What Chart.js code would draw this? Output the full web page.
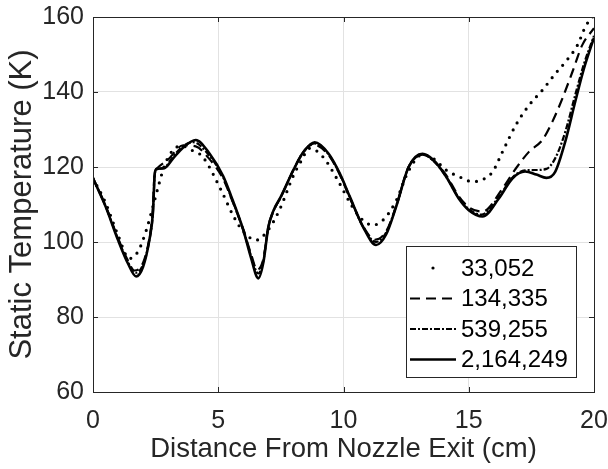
<!DOCTYPE html>
<html>
<head>
<meta charset="utf-8">
<script src="https://cdn.jsdelivr.net/npm/chart.js@4.4.1/dist/chart.umd.min.js"></script>
<style>
  body { margin: 0; background: #fff; }
  #wrap { width: 608px; height: 469px; }
</style>
</head>
<body>
<div id="wrap"><canvas id="tempChart" width="608" height="469"></canvas></div>
<script>
// 各網格數量下的靜溫分佈 (x: cm, y: K)
const seriesNames = ['33,052', '134,335', '539,255', '2,164,249'];

const x33k = [0, 0.5, 1.0, 1.45, 1.8, 2.13, 2.39, 2.66, 2.86, 3.19, 3.55, 3.9, 4.38, 5.11, 5.6,
  6.0, 6.52, 6.99, 7.44, 7.98, 8.3, 8.65, 9.18, 9.77, 10.3, 10.7, 11.17, 11.6, 12.1, 12.6,
  13.15, 13.6, 14.09, 14.62, 15.15, 15.5, 15.95, 16.35, 16.88, 17.41, 17.94, 18.47, 18.87, 19.34, 19.67, 20];
const t33k = [117, 110.5, 101.8, 95.6, 97.5, 103.2, 109.4, 116.1, 120.5, 124.5, 125.6, 124.6, 122.7, 113.9, 107,
  102.8, 100.5, 103.2, 108.5, 117.4, 121.5, 125.0, 122.7, 116.5, 110, 106.3, 104.5, 106, 111, 119,
  123.3, 122.2, 119.2, 117.4, 116.1, 116.5, 118.7, 124.1, 131.2, 136.5, 140.5, 145, 148.1, 152.5, 157.6, 160.5];

const x134k = [0, 0.5, 1.0, 1.4, 1.65, 2.0, 2.25, 2.38, 2.46, 2.55, 3.0, 3.6, 4.1, 4.6, 5.2,
  5.5, 6.0, 6.3, 6.55, 6.8, 7.0, 7.2, 7.5, 8.0, 8.4, 8.8, 9.4, 9.85, 10.25, 10.8,
  11.25, 11.7, 12.1, 12.6, 13.15, 13.6, 14.1, 14.6, 15.0, 15.55, 16.35, 16.88, 17.41, 17.94, 18.34,
  18.74, 19.14, 19.53, 20];
const t134k = [117, 109.7, 101, 95, 92.4, 94.5, 101, 108, 118.2, 119.6, 122, 125.8, 125.5, 122.5, 116.8,
  112, 103.3, 97, 92.6, 95.5, 104, 108.2, 112, 119.2, 124, 126, 123.2, 118, 111.8, 104,
  100.6, 102.8, 109.5, 120, 123.3, 121.6, 117.8, 112.2, 109.3, 108.1, 114.3, 119.6, 124.1, 127.2, 132.1,
  138.3, 145.4, 152.5, 157];

const x539k = [0, 0.5, 1.0, 1.4, 1.7, 2.0, 2.25, 2.39, 2.47, 2.55, 2.85, 3.2, 3.6, 4.0, 4.6,
  5.2, 5.5, 6.0, 6.3, 6.6, 6.8, 7.0, 7.2, 7.5, 8.0, 8.4, 8.85, 9.4, 9.85, 10.25,
  10.8, 11.3, 11.7, 12.1, 12.6, 13.15, 13.6, 14.1, 14.6, 15.0, 15.5, 16.2, 16.75, 17.25, 17.7,
  18.1, 18.45, 18.85, 19.25, 19.6, 20];
const t539k = [117, 109.6, 100.8, 94.6, 91.8, 94, 100.5, 107.5, 118.3, 119.4, 119.8, 122.8, 125.6, 126.6, 123.4,
  117.2, 112.2, 103.2, 96.5, 91.6, 95, 104, 108.2, 112, 119.2, 124, 126.3, 123.4, 118.2, 112,
  103.8, 100, 102.5, 109.5, 120, 123.3, 121.6, 117.4, 111.8, 108.8, 107.3, 112, 117.2, 119.1, 119.2,
  119.5, 122.3, 129.3, 139.2, 147.5, 155];

const x2164k = [0, 0.5, 1.0, 1.4, 1.72, 2.0, 2.25, 2.39, 2.47, 2.55, 2.85, 3.2, 3.6, 4.1, 4.65,
  5.2, 5.5, 6.0, 6.3, 6.6, 6.8, 7.0, 7.2, 7.5, 8.0, 8.4, 8.85, 9.4, 9.85, 10.25,
  10.8, 11.3, 11.7, 12.1, 12.6, 13.15, 13.6, 14.1, 14.6, 15.0, 15.55, 16.2, 16.75, 17.25, 17.7,
  18.1, 18.45, 18.85, 19.25, 19.6, 20];
const t2164k = [117, 109.5, 100.5, 94.2, 90.8, 93.4, 100.5, 107.6, 118.5, 119.5, 119.7, 122.3, 125.2, 127.2, 123.6,
  117.5, 112.5, 103.2, 96, 90.3, 94.5, 104, 108.3, 112.1, 119.2, 124, 126.6, 123.6, 118.3, 112.1,
  103.8, 99.2, 102, 109.4, 120, 123.5, 121.8, 117.4, 111.6, 108.5, 106.8, 111.6, 117, 118.8, 118,
  117.1, 118.7, 126.7, 137.4, 146.3, 154.5];

const xTicks = [0, 5, 10, 15, 20];
const yTicks = [60, 80, 100, 120, 140, 160];

const axisColor = '#262626';
const fontFamily = '"Liberation Sans", Arial, Helvetica, sans-serif';

function toPoints(xs, ys) {
  return xs.map((x, i) => ({ x: x, y: ys[i] }));
}

// 畫外框與向內的刻度線 (MATLAB 風格)
const boxPlugin = {
  id: 'boxPlugin',
  afterDatasetsDraw(chart) {
    const { ctx, chartArea: a, scales } = chart;
    const len = 5;
    ctx.save();
    ctx.strokeStyle = axisColor;
    ctx.lineWidth = 1;
    ctx.beginPath();
    xTicks.forEach(v => {
      const px = Math.round(scales.x.getPixelForValue(v)) + 0.5;
      ctx.moveTo(px, a.bottom); ctx.lineTo(px, a.bottom - len);
      ctx.moveTo(px, a.top); ctx.lineTo(px, a.top + len);
    });
    yTicks.forEach(v => {
      const py = Math.round(scales.y.getPixelForValue(v)) + 0.5;
      ctx.moveTo(a.left, py); ctx.lineTo(a.left + len, py);
      ctx.moveTo(a.right, py); ctx.lineTo(a.right - len, py);
    });
    ctx.stroke();
    ctx.strokeRect(Math.round(a.left) + 0.5, Math.round(a.top) + 0.5,
      Math.round(a.right - a.left), Math.round(a.bottom - a.top));
    ctx.restore();
  }
};

// 右下角的圖例
const legendPlugin = {
  id: 'boxLegend',
  afterDraw(chart) {
    const { ctx, chartArea: a } = chart;
    const boxW = 170, boxH = 131;
    const left = a.right - 18 - boxW;
    const top = a.bottom - 15 - boxH;
    ctx.save();
    ctx.fillStyle = '#fff';
    ctx.fillRect(left, top, boxW, boxH);
    ctx.strokeStyle = axisColor;
    ctx.lineWidth = 1;
    ctx.strokeRect(Math.round(left) + 0.5, Math.round(top) + 0.5, boxW, boxH);
    ctx.font = '24px ' + fontFamily;
    ctx.textBaseline = 'middle';
    ctx.fillStyle = '#000';
    chart.data.datasets.forEach((ds, i) => {
      const cy = top + 22 + i * 30.5;
      ctx.save();
      ctx.strokeStyle = ds.borderColor;
      ctx.lineWidth = ds.borderWidth;
      ctx.lineCap = ds.borderCapStyle || 'butt';
      ctx.setLineDash(ds.borderDash || []);
      ctx.beginPath();
      if (ds.legendDot) {
        ctx.moveTo(left + 27, cy); ctx.lineTo(left + 27.01, cy);
      } else {
        ctx.moveTo(left + 4, cy); ctx.lineTo(left + 50, cy);
      }
      ctx.stroke();
      ctx.restore();
      ctx.fillText(ds.label, left + 55, cy + 1);
    });
    ctx.restore();
  }
};

const ctx = document.getElementById('tempChart').getContext('2d');
new Chart(ctx, {
  type: 'line',
  data: {
    datasets: [
      { label: seriesNames[0], data: toPoints(x33k, t33k), borderColor: '#000', borderWidth: 3.2,
        borderDash: [0, 8.2], borderCapStyle: 'round', legendDot: true },
      { label: seriesNames[1], data: toPoints(x134k, t134k), borderColor: '#000', borderWidth: 2.2,
        borderDash: [10, 6] },
      { label: seriesNames[2], data: toPoints(x539k, t539k), borderColor: '#000', borderWidth: 2.2,
        borderDash: [6, 2, 2, 2] },
      { label: seriesNames[3], data: toPoints(x2164k, t2164k), borderColor: '#000', borderWidth: 2.6 }
    ]
  },
  options: {
    responsive: false,
    animation: false,
    layout: { padding: { top: 17, right: 14, left: 0, bottom: 0 } },
    elements: {
      point: { radius: 0 },
      line: { cubicInterpolationMode: 'monotone', fill: false }
    },
    plugins: { legend: { display: false }, tooltip: { enabled: false } },
    scales: {
      x: {
        type: 'linear', min: 0, max: 20,
        ticks: { stepSize: 5, color: axisColor, font: { family: fontFamily, size: 25 }, padding: 14, maxRotation: 0 },
        grid: { color: '#e2e2e2', drawTicks: false },
        border: { display: false },
        title: { display: true, text: 'Distance From Nozzle Exit (cm)', color: axisColor,
          font: { family: fontFamily, size: 27.5 }, padding: { top: 0, bottom: 3 } },
        afterFit(scale) {
          scale.height = 77;
          scale.paddingLeft = 0;
          scale.paddingRight = 0;
        }
      },
      y: {
        type: 'linear', min: 60, max: 160,
        ticks: { stepSize: 20, color: axisColor, font: { family: fontFamily, size: 25 }, padding: 9 },
        grid: { color: '#e2e2e2', drawTicks: false },
        border: { display: false },
        title: { display: true, text: 'Static Temperature (K)', color: axisColor,
          font: { family: fontFamily, size: 31 }, padding: { top: 4, bottom: 0 } },
        afterFit(scale) {
          scale.width = 93;
          scale.paddingTop = 0;
          scale.paddingBottom = 0;
        }
      }
    }
  },
  plugins: [boxPlugin, legendPlugin]
});
</script>
</body>
</html>
